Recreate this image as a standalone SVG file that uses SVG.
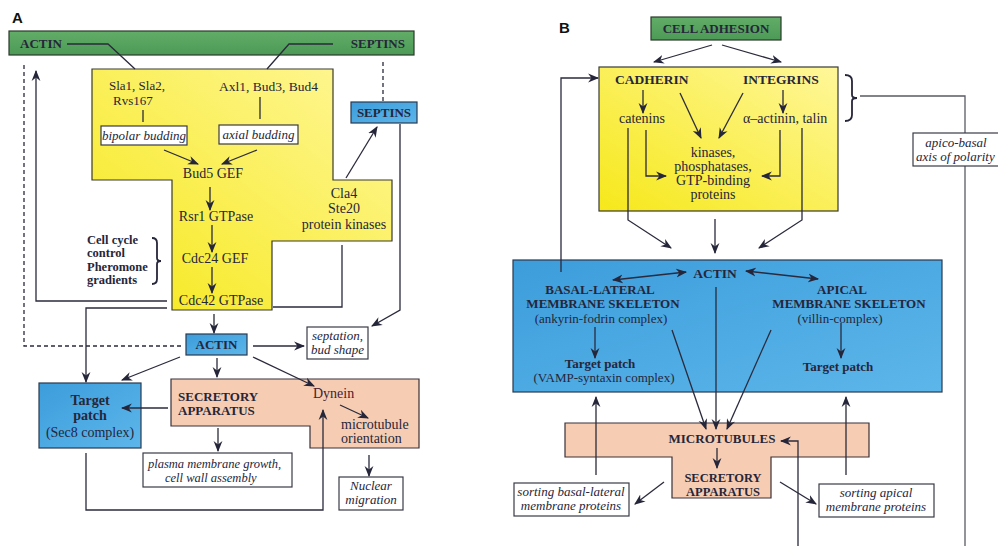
<svg xmlns="http://www.w3.org/2000/svg" width="998" height="546" viewBox="0 0 998 546">
<style>
text{font-family:"Liberation Serif","Times New Roman",serif;fill:#26263a;font-size:14px}
.b{font-weight:bold;font-size:13px}
.i{font-style:italic;font-size:13px}
.m{text-anchor:middle}
.lbl{font-family:"Liberation Sans",Arial,sans-serif;font-weight:bold;font-size:15px;fill:#111}
.c{fill:none;stroke:#2a2a3c;stroke-width:1.3}
.a{marker-end:url(#ah)}
.d{stroke-dasharray:4,3}
.box{fill:#fff;stroke:#3a3a48;stroke-width:1.2}
.g{fill:url(#gg);stroke:#2a3a2a;stroke-width:1.2}
.y{fill:url(#gy);stroke:#3a3a30;stroke-width:1.2}
.bl{fill:url(#gb);stroke:#2a3a50;stroke-width:1.2}
.p{fill:#f6cdb3;stroke:#3a3038;stroke-width:1.2}
</style>
<defs>
<linearGradient id="gg" x1="0" y1="0" x2="0" y2="1"><stop offset="0" stop-color="#62ad68"/><stop offset="1" stop-color="#4c9a56"/></linearGradient>
<linearGradient id="gy" x1="0" y1="1" x2="1" y2="0"><stop offset="0" stop-color="#f6e81a"/><stop offset="1" stop-color="#fff79a"/></linearGradient>
<linearGradient id="gb" x1="0" y1="0" x2="1" y2="1"><stop offset="0" stop-color="#3c9ddb"/><stop offset="1" stop-color="#5db6ea"/></linearGradient>
<marker id="ah" viewBox="0 0 10 10" refX="9" refY="5" markerWidth="11" markerHeight="11" markerUnits="userSpaceOnUse" orient="auto-start-reverse"><path d="M0,1 L10,5 L0,9 L3,5 Z" fill="#26263a"/></marker>
</defs>

<text class="lbl" x="12" y="23">A</text>
<text class="lbl" x="559" y="33">B</text>

<!-- Panel A nodes -->
<g id="a-bar"><rect class="g" x="9" y="31" width="405" height="24"/>
<text class="b" x="20" y="48">ACTIN</text><text class="b" x="405" y="48" text-anchor="end">SEPTINS</text></g>

<g id="a-yellow"><path class="y" d="M92,69 H333 V180 H392 V241 H272 V310 H172 V180 H92 Z"/>
<text x="109" y="90" style="font-size:13px">Sla1, Sla2,</text><text x="113" y="105" style="font-size:13px">Rvs167</text>
<text x="219" y="91" style="font-size:13.5px">Axl1, Bud3, Bud4</text>
<text class="m" x="213" y="178">Bud5 GEF</text>
<text class="m" x="216" y="221">Rsr1 GTPase</text>
<text class="m" x="215" y="263">Cdc24 GEF</text>
<text class="m" x="221" y="305">Cdc42 GTPase</text>
<text class="m" x="344" y="198">Cla4</text><text class="m" x="344" y="213">Ste20</text><text class="m" x="344" y="229">protein kinases</text></g>

<g id="a-bipolar"><rect class="box" x="101" y="126" width="86" height="19"/><text class="i m" x="144" y="140">bipolar budding</text></g>
<g id="a-axial"><rect class="box" x="219" y="125" width="79" height="19"/><text class="i m" x="258.5" y="139">axial budding</text></g>

<g id="a-cellcycle"><text class="b" x="87" y="244" style="font-size:12.5px">Cell cycle</text><text class="b" x="87" y="257" style="font-size:12.5px">control</text><text class="b" x="87" y="271" style="font-size:12.5px">Pheromone</text><text class="b" x="87" y="284" style="font-size:12.5px">gradients</text>
<path d="M152,238 q5,0 5,5 v15 q0,3 4,3 q-4,0 -4,3 v15 q0,5 -5,5" fill="none" stroke="#26263a" stroke-width="1.8"/></g>

<g id="a-septins"><rect class="bl" x="351" y="102" width="66" height="21"/><text class="b m" x="384" y="117">SEPTINS</text></g>
<g id="a-actin"><rect class="bl" x="186" y="334" width="61" height="21"/><text class="b m" x="216.5" y="349">ACTIN</text></g>
<g id="a-septation"><rect class="box" x="307" y="327" width="61" height="32"/><text class="i m" x="337.5" y="340">septation,</text><text class="i m" x="337.5" y="354">bud shape</text></g>
<g id="a-target"><rect class="bl" x="39" y="383" width="102" height="65"/><text class="m" x="90" y="405" style="font-weight:bold">Target</text><text class="m" x="90" y="420" style="font-weight:bold">patch</text><text class="m" x="90" y="437">(Sec8 complex)</text></g>
<g id="a-secretory"><path class="p" d="M171,379 H419 V448 H310 V426 H171 Z"/>
<text class="b" x="178" y="401">SECRETORY</text><text class="b" x="178" y="415">APPARATUS</text>
<text x="313" y="398" style="fill:#4a2030">Dynein</text>
<text x="341" y="429">microtubule</text><text x="341" y="443">orientation</text></g>
<g id="a-plasma"><rect class="box" x="143" y="453" width="149" height="34"/><text class="i" x="148" y="468" style="font-size:12.5px">plasma membrane growth,</text><text class="i" x="165" y="482" style="font-size:12.5px">cell wall assembly</text></g>
<g id="a-nuclear"><rect class="box" x="339" y="477" width="64" height="33"/><text class="i m" x="371" y="490">Nuclear</text><text class="i m" x="371" y="504">migration</text></g>

<!-- Panel A connectors -->
<g id="a-connectors">
<path class="c" d="M67,44 H108 L135,69"/>
<path class="c" d="M333,44 H289 L267,69"/>
<path class="c d" d="M383,62 V101"/>
<path class="c d" d="M24,65 V346 H183"/>
<path class="c a" d="M167,301 H36 V71"/>
<path class="c a" d="M167,308 H86 V382"/>
<path class="c" d="M342,245 V307 H273"/>
<path class="c a" d="M400,124 V310 L372,326"/>
<path class="c a" d="M346,178 L377,127"/>
<path class="c" d="M143,110 V122"/>
<path class="c" d="M260,97 V119"/>
<path class="c a" d="M164,150 L198,164"/>
<path class="c a" d="M257,150 L222,164"/>
<path class="c a" d="M210,187 V210"/>
<path class="c a" d="M212,225 V252"/>
<path class="c a" d="M212,267 V293"/>
<path class="c a" d="M214,314 V333"/>
<path class="c a" d="M253,346 H304"/>
<path class="c a" d="M180,357 L122,380"/>
<path class="c a" d="M217,358 V377"/>
<path class="c a" d="M253,357 L314,386"/>
<path class="c a" d="M168,408 H122"/>
<path class="c a" d="M340,405 L368,418"/>
<path class="c a" d="M218,428 V451"/>
<path class="c a" d="M369,455 V476"/>
<path class="c a" d="M86,453 V510 H323 V410"/>
</g>

<!-- Panel B nodes -->
<g id="b-adhesion"><rect class="g" x="651" y="17" width="130" height="23"/><text class="b m" x="716" y="33">CELL ADHESION</text></g>
<g id="b-yellow"><rect class="y" x="599" y="67" width="239" height="144"/>
<text class="b" x="615" y="84" style="font-size:13.5px">CADHERIN</text><text class="b" x="743" y="84" style="font-size:13.5px">INTEGRINS</text>
<text x="619" y="123">catenins</text><text x="743" y="123">α–actinin, talin</text>
<text class="m" x="713" y="157">kinases,</text><text class="m" x="713" y="171">phosphatases,</text><text class="m" x="713" y="185">GTP-binding</text><text class="m" x="713" y="199">proteins</text></g>
<g id="b-brace"><path d="M845,75 q7,0 7,6 v14 q0,3 5,3 q-5,0 -5,3 v14 q0,6 -7,6" fill="none" stroke="#26263a" stroke-width="1.8"/></g>
<g id="b-actin"><rect class="bl" x="513" y="260" width="429" height="132"/>
<text class="b m" x="715" y="278" style="font-size:13.5px">ACTIN</text>
<text class="b m" x="600" y="294">BASAL-LATERAL</text><text class="b m" x="603" y="308">MEMBRANE SKELETON</text><text class="m" x="601" y="323" style="font-size:13px">(ankyrin-fodrin complex)</text>
<text class="b m" x="842" y="294">APICAL</text><text class="b m" x="849" y="308">MEMBRANE SKELETON</text><text class="m" x="840" y="323" style="font-size:13px">(villin-complex)</text>
<text class="b m" x="600" y="368">Target patch</text><text class="m" x="604" y="382" style="font-size:13px">(VAMP-syntaxin complex)</text>
<text class="b m" x="838" y="371">Target patch</text></g>
<g id="b-microtubules"><path class="p" d="M565,423 H869 V457 H771 V498 H672 V457 H565 Z"/>
<text class="b m" x="722" y="443">MICROTUBULES</text><text class="b m" x="723" y="482" style="font-size:12.5px">SECRETORY</text><text class="b m" x="723" y="496" style="font-size:12.5px">APPARATUS</text></g>
<g id="b-sortbasal"><rect class="box" x="514" y="483" width="115" height="33"/><text class="i m" x="571" y="496">sorting basal-lateral</text><text class="i m" x="571" y="510">membrane proteins</text></g>
<g id="b-sortapical"><rect class="box" x="819" y="484" width="115" height="33"/><text class="i m" x="876" y="497">sorting apical</text><text class="i m" x="876" y="511">membrane proteins</text></g>

<!-- Panel B connectors -->
<g id="b-connectors">
<path class="c" d="M860,96 H965 V546" style="stroke:#5a5a66"/>
<path class="c a" d="M712,45 L654,62"/>
<path class="c a" d="M722,45 L781,62"/>
<path class="c a" d="M561,272 V78 H598"/>
<path class="c a" d="M643,90 V113"/>
<path class="c a" d="M783,90 V113"/>
<path class="c a" d="M680,93 L701,138"/>
<path class="c a" d="M743,93 L719,138"/>
<path class="c a" d="M646,130 V176 H666"/>
<path class="c a" d="M780,130 V176 H762"/>
<path class="c a" d="M628,128 V220 L671,248"/>
<path class="c a" d="M715,219 V253"/>
<path class="c a" d="M802,128 V220 L759,248"/>
<path class="c a" d="M613,280 L686,272" marker-start="url(#ah)"/>
<path class="c a" d="M746,271 L818,279" marker-start="url(#ah)"/>
<path class="c a" d="M595,327 V358"/>
<path class="c a" d="M841,323 V358"/>
<path class="c a" d="M716,287 V429"/>
<path class="c a" d="M672,330 L706,429"/>
<path class="c a" d="M771,330 L727,429"/>
<path class="c a" d="M717,448 V468"/>
<path class="c a" d="M798,546 V441 H781"/>
<path class="c a" d="M596,475 V397"/>
<path class="c a" d="M846,475 V397"/>
<path class="c a" d="M664,482 L635,504"/>
<path class="c a" d="M780,482 L816,504"/>
</g>
<g id="b-apico"><rect class="box" x="913" y="133" width="92" height="33"/><text class="i m" x="956" y="147">apico-basal</text><text class="i" x="916" y="161">axis of polarity</text></g>
</svg>
